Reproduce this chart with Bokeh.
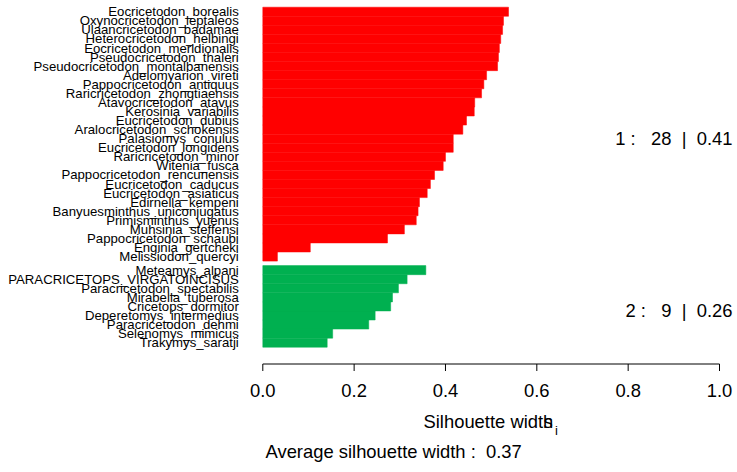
from bokeh.plotting import figure
from bokeh.models import Range1d, FixedTicker, NumeralTickFormatter, Label, AllLabels
from bokeh.embed import file_html
from bokeh.resources import INLINE

# ---- data (top to bottom within each cluster) ----
cluster1_names = [
    "Eocricetodon_borealis", "Oxynocricetodon_leptaleos", "Ulaancricetodon_badamae",
    "Heterocricetodon_helbingi", "Eocricetodon_meridionalis", "Pseudocricetodon_thaleri",
    "Pseudocricetodon_montalbanensis", "Adelomyarion_vireti", "Pappocricetodon_antiquus",
    "Raricricetodon_zhongtiaensis", "Atavocricetodon_atavus", "Kerosinia_variabilis",
    "Eucricetodon_dubius", "Aralocricetodon_schokensis", "Palasiomys_conulus",
    "Eucricetodon_longidens", "Raricricetodon_minor", "Witenia_fusca",
    "Pappocricetodon_rencunensis", "Eucricetodon_caducus", "Eucricetodon_asiaticus",
    "Edirnella_kempeni", "Banyuesminthus_uniconjugatus", "Primisminthus_yuenus",
    "Muhsinia_steffensi", "Pappocricetodon_schaubi", "Enginia_gertcheki",
    "Melissiodon_quercyi",
]
cluster1_widths = [
    0.538, 0.527, 0.525, 0.521, 0.518, 0.516, 0.514, 0.490, 0.484, 0.479,
    0.464, 0.463, 0.446, 0.438, 0.417, 0.417, 0.400, 0.395, 0.376, 0.367,
    0.360, 0.343, 0.340, 0.336, 0.310, 0.273, 0.104, 0.032,
]
cluster2_names = [
    "Meteamys_alpani", "PARACRICETOPS_VIRGATOINCISUS", "Paracricetodon_spectabilis",
    "Mirabella_tuberosa", "Cricetops_dormitor", "Deperetomys_intermedius",
    "Paracricetodon_dehmi", "Selenomys_mimicus", "Trakymys_saratji",
]
cluster2_widths = [0.357, 0.316, 0.297, 0.284, 0.280, 0.246, 0.232, 0.153, 0.141]
cluster_ids = [1, 2]
cluster_colors = ["#FF0000", "#00B050"]
x_ticks = [0.0, 0.2, 0.4, 0.6, 0.8, 1.0]

FONT = "Liberation Sans"
GAP = 0.5  # space between clusters, in bar heights
NB = "\u00a0"

clusters = [
    (cluster_ids[0], cluster1_names, cluster1_widths, cluster_colors[0]),
    (cluster_ids[1], cluster2_names, cluster2_widths, cluster_colors[1]),
]

ys, rights, colors, names = [], [], [], []
cluster_mid = {}
pos = 0.0
for cid, nm, wd, col in reversed(clusters):
    centers = []
    for n, w in zip(reversed(nm), reversed(wd)):
        ys.append(pos + 0.5)
        rights.append(w)
        colors.append(col)
        names.append(n)
        centers.append(pos + 0.5)
        pos += 1.0
    cluster_mid[cid] = sum(centers) / len(centers)
    pos += GAP
top = pos - GAP

W, H = 737, 472
X0_PX = 262.3          # pixel column of x = 0
px_per_unit = 456.7
bar_px = 9.067
y_end = top + 6.7 / bar_px
y_start = y_end - H / bar_px
axis_y = y_end - 363.5 / bar_px
tick_len = 7 / bar_px

p = figure(
    width=W, height=H,
    x_range=Range1d(-X0_PX / px_per_unit, (W - X0_PX) / px_per_unit),
    y_range=Range1d(y_start, y_end),
    output_backend="svg", toolbar_location=None,
    min_border=0,
)
p.outline_line_color = None
p.grid.visible = False
p.background_fill_color = "white"
p.border_fill_color = "white"

p.hbar(y=ys, left=0, right=rights, height=1.0, fill_color=colors,
       line_color=colors, line_width=0.5)

# axis rule and tick marks (from the tick values)
p.segment(x0=[x_ticks[0]], x1=[x_ticks[-1]], y0=[axis_y], y1=[axis_y],
          line_color="black", line_width=1)
p.segment(x0=x_ticks, x1=x_ticks, y0=[axis_y] * len(x_ticks),
          y1=[axis_y - tick_len] * len(x_ticks), line_color="black", line_width=1)

# x axis labels, drawn at a fixed place below the bars
xa = p.xaxis[0]
xa.fixed_location = axis_y
xa.ticker = FixedTicker(ticks=x_ticks)
xa.formatter = NumeralTickFormatter(format="0.0")
xa.major_tick_out = 7
xa.major_tick_in = 0
xa.minor_tick_line_color = None
xa.axis_line_color = None
xa.major_tick_line_color = None
xa.major_label_text_font = FONT
xa.major_label_text_font_size = "18.4px"
xa.major_label_text_color = "black"
xa.major_label_standoff = 13

# y axis with names, at x = 0
ya = p.yaxis[0]
ya.fixed_location = 0
ya.ticker = FixedTicker(ticks=ys)
ya.major_label_overrides = {y: n for y, n in zip(ys, names)}
ya.major_label_policy = AllLabels()
ya.axis_line_color = None
ya.major_tick_line_color = None
ya.minor_tick_line_color = None
ya.major_tick_out = 0
ya.major_tick_in = 0
ya.major_label_standoff = 24
ya.major_label_text_font = FONT
ya.major_label_text_font_size = "13.2px"
ya.major_label_text_color = "black"

# cluster statistics
all_w = []
for cid, nm, wd, col in clusters:
    all_w += wd
    avg = sum(wd) / len(wd)
    txt = f"{cid}{NB}:{NB*3}{len(wd)}{NB*2}|{NB*2}{avg:.2f}"
    p.add_layout(Label(
        x=732, x_units="screen", y=cluster_mid[cid], y_units="data", y_offset=-4,
        text=txt,
        text_font=FONT, text_font_size="18.4px", text_color="black",
        text_align="right", text_baseline="middle",
    ))

overall = sum(all_w) / len(all_w)

# x axis title with overlapping s_i (as in the reference)
p.add_layout(Label(x=423, y=51, x_units="screen", y_units="screen",
                   text="Silhouette width", text_font=FONT, text_font_size="18.4px",
                   text_color="black", text_align="left", text_baseline="middle"))
p.add_layout(Label(x=543, y=51, x_units="screen", y_units="screen",
                   text="s", text_font=FONT, text_font_size="18.4px",
                   text_color="black", text_align="left", text_baseline="middle"))
p.add_layout(Label(x=554.5, y=42, x_units="screen", y_units="screen",
                   text="i", text_font=FONT, text_font_size="13px",
                   text_color="black", text_align="left", text_baseline="middle"))

p.add_layout(Label(x=265, y=21, x_units="screen", y_units="screen",
                   text=f"Average silhouette width{NB}:{NB*2}{overall:.2f}",
                   text_font=FONT, text_font_size="18.4px", text_color="black",
                   text_align="left", text_baseline="middle"))

open("out.html", "w").write(file_html(p, INLINE))
